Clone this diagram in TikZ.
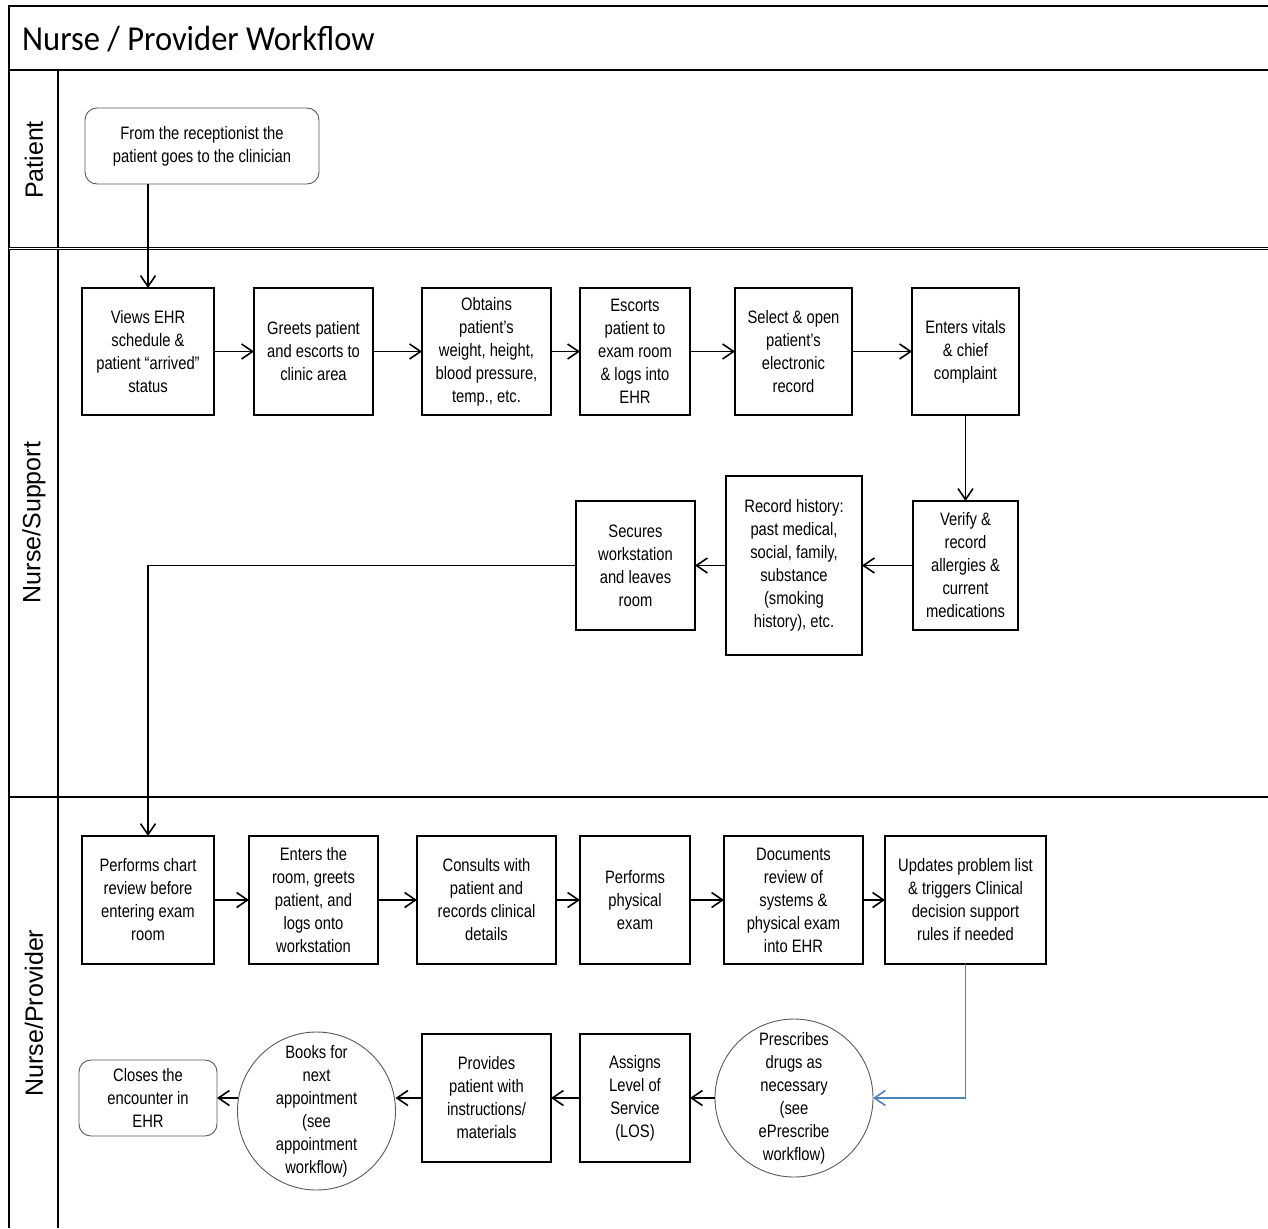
\documentclass[tikz,border=0pt]{standalone}
\usepackage{fontspec}
\setmainfont[FakeStretch=0.82]{Liberation Sans}
\newfontfamily\lanefont{Liberation Sans}
\newfontfamily\titlefont[FakeStretch=0.93]{Carlito}
\usetikzlibrary{arrows.meta}

\begin{document}
\begin{tikzpicture}[x=1pt,y=-1pt,
  frame/.style={line width=1.5pt},
  stepbox/.style={draw, line width=1.4pt, rectangle, inner sep=0pt, outer sep=0pt,
    align=center, font=\fontsize{18}{23}\selectfont},
  endbox/.style={stepbox, rounded corners=12pt, draw=black!65, line width=0.9pt},
  refcircle/.style={draw=black!65, line width=0.9pt, circle, inner sep=0pt, outer sep=0pt,
    minimum size=158pt, align=center, font=\fontsize{18}{23}\selectfont},
  lane/.style={rotate=90, font=\lanefont\fontsize{25}{28}\selectfont},
  flow/.style={line width=1.8pt, -{Straight Barb[length=11pt,width=15pt,line width=1.6pt]}},
  blueflow/.style={flow, line width=1.4pt, draw=laneblue},
]
\definecolor{laneblue}{RGB}{79,129,189}
\useasboundingbox (0,0) rectangle (1268,1228);

% swimlane frame
\draw[frame] (9,1228) -- (9,6) -- (1268,6);
\draw[line width=2.2pt] (9,70) -- (1268,70);
\draw[frame] (58,70) -- (58,1228);
\draw[line width=1pt, double, double distance=1.3pt] (9,248.5) -- (1268,248.5);
\draw[frame] (9,797) -- (1268,797);

% title and lane names
\node[anchor=base west, inner sep=0pt, font=\titlefont\fontsize{35}{40}\selectfont] (title) at (22,51) {Nurse / Provider Workflow};
\node[lane] (lanepatient) at (34,160) {Patient};
\node[lane] (lanesupport) at (34,522.5) {Nurse/Support};
\node[lane] (laneprovider) at (34,1013) {Nurse/Provider};

% patient lane
\node[endbox, minimum width=234pt, minimum height=76pt] (p1) at (202,146)
  {From the receptionist the\\patient goes to the clinician};

% nurse / support lane, first row
\node[stepbox, minimum width=132pt, minimum height=127pt] (b1) at (148,351.5)
  {Views EHR\\schedule \&\\patient “arrived”\\status};
\node[stepbox, minimum width=119pt, minimum height=127pt] (b2) at (313.5,351.5)
  {Greets patient\\and escorts to\\clinic area};
\node[stepbox, minimum width=129pt, minimum height=127pt] (b3) at (486.5,351.5)
  {Obtains\\patient’s\\weight, height,\\blood pressure,\\temp., etc.};
\node[stepbox, minimum width=110pt, minimum height=127pt] (b4) at (635,351.5)
  {Escorts\\patient to\\exam room\\\& logs into\\EHR};
\node[stepbox, minimum width=117pt, minimum height=127pt] (b5) at (793.5,351.5)
  {Select \& open\\patient’s\\electronic\\record};
\node[stepbox, minimum width=107pt, minimum height=127pt] (b6) at (965.5,351.5)
  {Enters vitals\\\& chief\\complaint};

% nurse / support lane, second row
\node[stepbox, minimum width=105pt, minimum height=129pt] (b7) at (965.5,565.5)
  {Verify \&\\record\\allergies \&\\current\\medications};
\node[stepbox, minimum width=136pt, minimum height=179pt] (b8) at (794,565.5)
  {Record history:\\past medical,\\social, family,\\substance\\(smoking\\history), etc.};
\node[stepbox, minimum width=119pt, minimum height=129pt] (b9) at (635.5,565.5)
  {Secures\\workstation\\and leaves\\room};

% nurse / provider lane, first row
\node[stepbox, minimum width=132pt, minimum height=128pt] (b10) at (148,900)
  {Performs chart\\review before\\entering exam\\room};
\node[stepbox, minimum width=129pt, minimum height=128pt] (b11) at (313.5,900)
  {Enters the\\room, greets\\patient, and\\logs onto\\workstation};
\node[stepbox, minimum width=139pt, minimum height=128pt] (b12) at (486.5,900)
  {Consults with\\patient and\\records clinical\\details};
\node[stepbox, minimum width=110pt, minimum height=128pt] (b13) at (635,900)
  {Performs\\physical\\exam};
\node[stepbox, minimum width=139pt, minimum height=128pt] (b14) at (793.5,900)
  {Documents\\review of\\systems \&\\physical exam\\into EHR};
\node[stepbox, minimum width=161pt, minimum height=128pt] (b15) at (965.5,900)
  {Updates problem list\\\& triggers Clinical\\decision support\\rules if needed};

% nurse / provider lane, second row
\node[refcircle] (c1) at (794,1098)
  {Prescribes\\drugs as\\necessary\\(see\\ePrescribe\\workflow)};
\node[stepbox, minimum width=110pt, minimum height=128pt] (b16) at (635,1098)
  {Assigns\\Level of\\Service\\(LOS)};
\node[stepbox, minimum width=129pt, minimum height=128pt] (b17) at (486.5,1098)
  {Provides\\patient with\\instructions/\\materials};
\node[refcircle] (c2) at (316.5,1111)
  {Books for\\next\\appointment\\(see\\appointment\\workflow)};
\node[endbox, minimum width=138pt, minimum height=76pt] (b18) at (148,1098)
  {Closes the\\encounter in\\EHR};

% connectors
\draw[flow] (p1.south -| b1.north) -- (b1.north);
\draw[flow] (b1.east) -- (b2.west);
\draw[flow] (b2.east) -- (b3.west);
\draw[flow] (b3.east) -- (b4.west);
\draw[flow] (b4.east) -- (b5.west);
\draw[flow] (b5.east) -- (b6.west);
\draw[flow] (b6.south) -- (b7.north);
\draw[flow] (b7.west) -- (b8.east);
\draw[flow] (b8.west) -- (b9.east);
\draw[flow] (b9.west) -| (b10.north);
\draw[flow] (b10.east) -- (b11.west);
\draw[flow] (b11.east) -- (b12.west);
\draw[flow] (b12.east) -- (b13.west);
\draw[flow] (b13.east) -- (b14.west);
\draw[flow] (b14.east) -- (b15.west);
\draw[blueflow] (b15.south) |- (c1.east);
\draw[flow] (c1.west) -- (b16.east);
\draw[flow] (b16.west) -- (b17.east);
\draw[flow] (b17.west) -- (b17.west -| c2.east);
\draw[flow] (c2.west |- b18.east) -- (b18.east);
\end{tikzpicture}
\end{document}
